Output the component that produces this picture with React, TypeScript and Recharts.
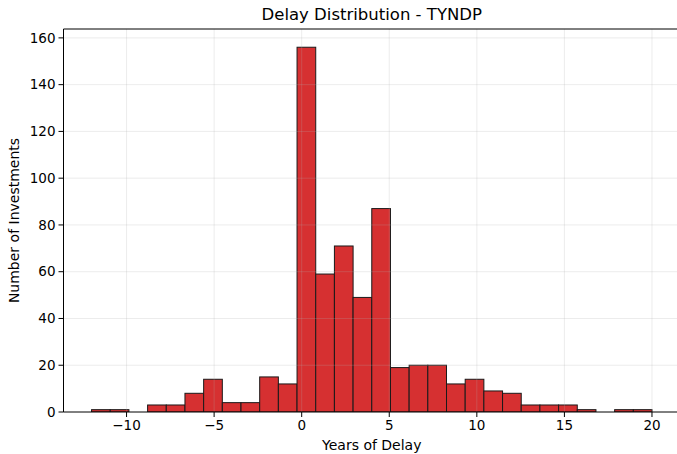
import React from "react"
import {
  ComposedChart,
  Bar,
  XAxis,
  YAxis,
  ReferenceLine,
} from "recharts"

// histogram of delays (30 bins from -12 to 20)
const binStart = -12
const binEnd = 20
const counts = [
  1, 1, 0, 3, 3, 8, 14, 4, 4, 15, 12, 156, 59, 71, 49, 87, 19, 20, 20, 12, 14, 9,
  8, 3, 3, 3, 1, 0, 1, 1,
]
const xTicks = [-10, -5, 0, 5, 10, 15, 20]
const yTicks = [0, 20, 40, 60, 80, 100, 120, 140, 160]

const binWidth = (binEnd - binStart) / counts.length
const data = counts.map((count, i) => ({
  x: binStart + (i + 0.5) * binWidth,
  count,
}))

// the axes box runs a little past the right edge of the picture
const W = 677
const chartW = 680
const H = 454
const margin = { top: 29, right: 0, bottom: 0, left: 0 }
const yAxisWidth = 63.5
const xAxisHeight = 42
const xDomain: [number, number] = [-13.6, 21.6]
const yDomain: [number, number] = [0, 163.8]
const plotWidth = chartW - margin.left - margin.right - yAxisWidth
const barPx = (plotWidth / (xDomain[1] - xDomain[0])) * binWidth

const font = "'DejaVu Sans', sans-serif"
const fmt = (v: number) => String(v).replace("-", "\u2212")

// full-width histogram bar centred on the bin centre
const HistBar = (props: any) => {
  const { x, y, width, height } = props
  if (!height) return null
  const cx = x + width / 2
  return (
    <rect
      x={cx - barPx / 2}
      y={y}
      width={barPx}
      height={height}
      fill="#d63031"
      stroke="#1a1a1a"
      strokeWidth={1}
    />
  )
}

export default function App() {
  return (
    <div style={{ position: "absolute", left: 0, top: 0, width: W, height: H, overflow: "hidden", fontFamily: font, background: "#fff" }}>
      <div
        style={{
          position: "absolute",
          top: 5,
          left: yAxisWidth,
          width: plotWidth,
          textAlign: "center",
          fontSize: 16.5,
          color: "#000",
        }}
      >
        Delay Distribution - TYNDP
      </div>
      <ComposedChart width={chartW} height={H} data={data} margin={margin}>
        <XAxis
          type="number"
          dataKey="x"
          domain={xDomain}
          ticks={xTicks}
          tickFormatter={fmt}
          allowDataOverflow
          height={xAxisHeight}
          tickSize={5}
          tickMargin={3}
          stroke="#000"
          tick={{ fill: "#000", fontSize: 13.5, fontFamily: font }}
          label={{ value: "Years of Delay", position: "insideBottom", offset: 4, fill: "#000", fontSize: 14, fontFamily: font }}
        />
        <YAxis
          type="number"
          domain={yDomain}
          ticks={yTicks}
          allowDataOverflow
          width={yAxisWidth}
          tickSize={5}
          tickMargin={3}
          stroke="#000"
          tick={{ fill: "#000", fontSize: 13.5, fontFamily: font }}
          label={{
            value: "Number of Investments",
            angle: -90,
            position: "insideLeft",
            offset: 14,
            style: { textAnchor: "middle" },
            fill: "#000",
            fontSize: 14,
            fontFamily: font,
          }}
        />
        <Bar
          dataKey="count"
          shape={HistBar}
          isAnimationActive={false}
        />
        {xTicks.map((t) => (
          <ReferenceLine key={`gx${t}`} x={t} stroke="#b0b0b0" strokeOpacity={0.3} strokeWidth={0.8} />
        ))}
        {yTicks.slice(1).map((t) => (
          <ReferenceLine key={`gy${t}`} y={t} stroke="#b0b0b0" strokeOpacity={0.3} strokeWidth={0.8} />
        ))}
        <ReferenceLine y={yDomain[1]} stroke="#000" strokeWidth={1} />
      </ComposedChart>
    </div>
  )
}
